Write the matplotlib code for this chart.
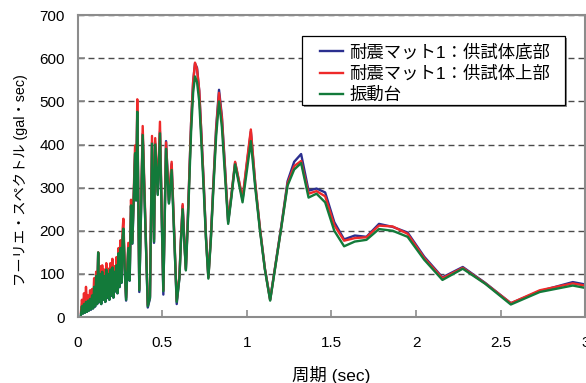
import matplotlib
matplotlib.use("Agg")
import matplotlib.pyplot as plt
from matplotlib.patches import Rectangle

plt.rcParams['font.family'] = ['Liberation Sans', 'Noto Sans CJK JP']

# period (sec)
period = [
    0.020, 0.026, 0.032, 0.038, 0.044, 0.050, 0.056, 0.062, 0.068, 0.074,
    0.080, 0.086, 0.092, 0.098, 0.104, 0.110, 0.116, 0.122, 0.128, 0.134,
    0.140, 0.146, 0.152, 0.158, 0.164, 0.170, 0.176, 0.182, 0.188, 0.194,
    0.200, 0.206, 0.212, 0.218, 0.224, 0.230, 0.236, 0.242, 0.248, 0.254,
    0.260, 0.266, 0.271, 0.279, 0.287, 0.300, 0.308, 0.316, 0.324, 0.340,
    0.346, 0.353, 0.365, 0.385, 0.415, 0.428, 0.440, 0.452, 0.459, 0.474,
    0.487, 0.507, 0.523, 0.540, 0.556, 0.586, 0.602, 0.611, 0.621, 0.630,
    0.640, 0.650, 0.661, 0.671, 0.683, 0.694, 0.706, 0.719, 0.731, 0.745,
    0.759, 0.773, 0.788, 0.803, 0.819, 0.836, 0.853, 0.871, 0.890, 0.910,
    0.931, 0.953, 0.975, 0.999, 1.024, 1.050, 1.078, 1.107, 1.138, 1.170,
    1.205, 1.241, 1.280, 1.321, 1.365, 1.412, 1.463, 1.517, 1.575, 1.638,
    1.707, 1.781, 1.862, 1.950, 2.048, 2.156, 2.276, 2.409, 2.560, 2.731,
    2.926, 3.151,
]

# 振動台
table = [
    5, 25, 8, 30, 10, 35, 12, 38, 15, 42,
    18, 50, 20, 70, 25, 95, 30, 150, 35, 100,
    30, 105, 40, 95, 35, 110, 45, 100, 40, 110,
    50, 115, 45, 105, 60, 120, 55, 148, 70, 160,
    80, 180, 205, 110, 40, 160, 85, 259, 171, 380,
    271, 476, 62, 422, 25, 45, 402, 175, 400, 283,
    426, 60, 390, 263, 341, 35, 90, 175, 250, 180,
    108, 200, 320, 430, 520, 558, 545, 500, 410, 300,
    180, 89, 180, 300, 420, 500, 440, 330, 216, 280,
    354, 310, 266, 335, 408, 300, 200, 110, 38, 120,
    210, 305, 342, 357, 277, 286, 266, 200, 164, 175,
    179, 204, 200, 186, 133, 86, 112, 77, 29, 58,
    73, 56,
]

# 耐震マット1：供試体上部
top = [
    10, 40, 15, 55, 25, 70, 30, 50, 25, 62,
    30, 65, 28, 90, 35, 105, 40, 150, 45, 118,
    40, 120, 48, 110, 45, 125, 55, 112, 50, 125,
    60, 135, 55, 118, 70, 139, 65, 160, 78, 178,
    90, 201, 228, 118, 45, 172, 95, 272, 178, 398,
    280, 505, 65, 443, 28, 48, 420, 180, 415, 290,
    453, 62, 405, 270, 360, 38, 95, 182, 262, 185,
    112, 210, 335, 450, 545, 590, 575, 525, 430, 315,
    185, 92, 185, 310, 435, 520, 460, 345, 222, 287,
    360, 318, 275, 355, 435, 310, 205, 112, 40, 122,
    212, 310, 350, 362, 286, 292, 280, 213, 177, 183,
    185, 212, 210, 193, 137, 90, 114, 78, 32, 62,
    78, 62,
]

# 耐震マット1：供試体底部
bottom = [
    5, 24, 8, 28, 10, 33, 12, 36, 15, 40,
    17, 48, 20, 68, 24, 92, 30, 148, 34, 98,
    30, 103, 40, 93, 35, 108, 44, 98, 40, 108,
    49, 113, 45, 103, 59, 118, 55, 146, 69, 158,
    79, 178, 203, 108, 38, 158, 84, 257, 170, 378,
    270, 478, 58, 425, 22, 43, 405, 172, 403, 285,
    430, 52, 408, 265, 355, 30, 92, 178, 258, 185,
    110, 210, 335, 450, 545, 588, 578, 525, 430, 315,
    185, 92, 188, 312, 440, 527, 465, 350, 220, 285,
    358, 316, 272, 350, 430, 308, 204, 112, 40, 123,
    214, 315, 360, 378, 293, 298, 289, 220, 180, 189,
    186, 216, 209, 196, 140, 92, 116, 79, 32, 60,
    81, 64,
]

fig = plt.figure(figsize=(5.86, 3.83), dpi=100)
ax = fig.add_axes([0.1323, 0.1723, 0.8665, 0.788])

ax.plot(period, bottom, color='#2b2f8f', lw=1.7, label='耐震マット1：供試体底部')
ax.plot(period, top, color='#ee2a2a', lw=1.7, label='耐震マット1：供試体上部')
ax.plot(period, table, color='#137a3a', lw=1.7, label='振動台')

ax.set_xlim(0, 3)
ax.set_ylim(0, 700)
ax.set_xticks([0, 0.5, 1, 1.5, 2, 2.5, 3])
ax.set_xticklabels(['0', '0.5', '1', '1.5', '2', '2.5', '3'])
ax.set_yticks(range(0, 701, 100))

ax.yaxis.grid(True, color='#4a4a4a', lw=1, linestyle=(0, (4.3, 2.9)))
ax.set_axisbelow(True)

for s in ax.spines.values():
    s.set_color('#8c8c8c')
    s.set_linewidth(1.5)

ax.tick_params(axis='both', direction='in', length=5, width=1.2, color='#8c8c8c',
               labelsize=11, labelcolor='black')
ax.tick_params(axis='x', pad=14)
ax.tick_params(axis='y', pad=9)

ax.set_xlabel('周期 (sec)', fontsize=12.5, labelpad=11)
ax.set_ylabel('フーリエ・スペクトル (gal・sec)', fontsize=10.3)
ax.yaxis.set_label_coords(-0.098, 0.455)

# legend box with a small drop shadow
bx, by, bw, bh = 0.4415, 0.7025, 0.5185, 0.2295
ax.add_patch(Rectangle((bx + 0.004, by - 0.0066), bw, bh, transform=ax.transAxes,
                       facecolor='#8a8a8a', edgecolor='none', zorder=4))
ax.add_patch(Rectangle((bx, by), bw, bh, transform=ax.transAxes,
                       facecolor='white', edgecolor='black', lw=0.9, zorder=4.5))

leg = ax.legend(loc='upper left', bbox_to_anchor=(0.4775, 0.905), borderaxespad=0,
                fontsize=12.5, frameon=False, handlelength=1.3, handletextpad=0.4,
                labelspacing=0.28, borderpad=0)
leg.set_zorder(5)

fig.savefig('out.png', dpi=100)
